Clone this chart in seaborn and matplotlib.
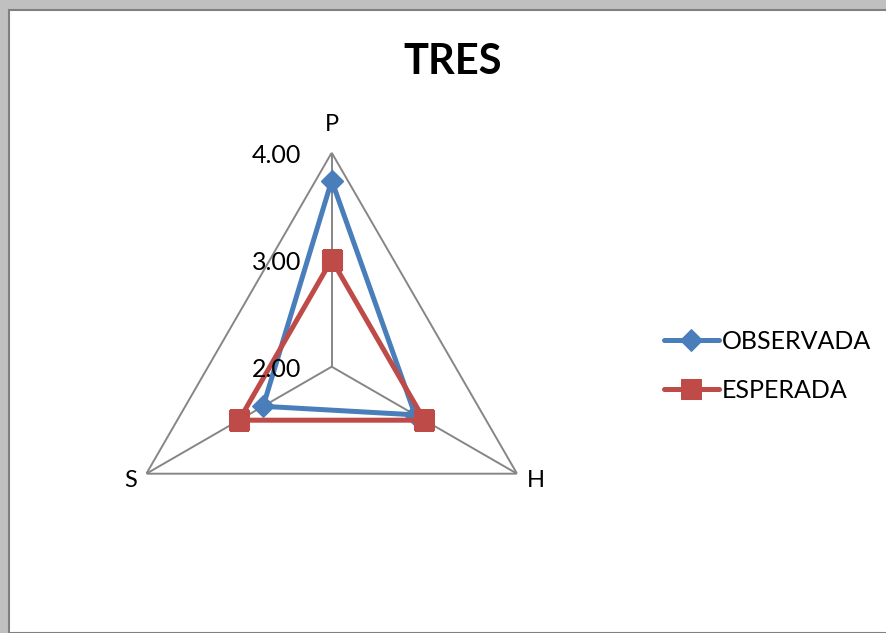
import numpy as np
import pandas as pd
import matplotlib
matplotlib.use("Agg")
import matplotlib.pyplot as plt
from matplotlib.patches import Rectangle
import seaborn as sns

# Radar data
categories = ["P", "H", "S"]
observada = [3.74, 2.90, 2.74]
esperada = [3.00, 3.00, 3.00]
series_names = ["OBSERVADA", "ESPERADA"]
tick_values = [2.00, 3.00, 4.00]
tick_labels = ["2.00", "3.00", "4.00"]
title = "TRES"

sns.set_theme(style="white")
plt.rcParams["font.family"] = ["Lato", "DejaVu Sans"]
plt.rcParams["text.color"] = "black"

W, H = 887, 633
fig = plt.figure(figsize=(W / 100, H / 100), dpi=100, facecolor="#c0c0c0")

# White chart area inside the grey window frame
fig.patches.append(Rectangle((9 / W, 0), 1, (H - 10) / H, transform=fig.transFigure,
                             facecolor="white", edgecolor="#808080", lw=1.5, zorder=-10))

cx, cy, R = 331.7, 366.7, 214
ax = fig.add_axes([(cx - R) / W, (H - cy - R) / H, 2 * R / W, 2 * R / H], projection="polar")
ax.set_zorder(1)
ax.set_facecolor("none")
ax.set_theta_offset(np.pi / 2)
ax.set_theta_direction(-1)
ax.set_ylim(tick_values[0], tick_values[-1])
ax.grid(False)
ax.spines["polar"].set_visible(False)
ax.set_xticks([])
ax.set_yticks([])

n = len(categories)
angles = [2 * np.pi * i / n for i in range(n)]
closed = angles + angles[:1]

grid_col = "#868686"
# Spokes and outer triangle
for a in angles:
    ax.plot([a, a], [tick_values[0], tick_values[-1]], color=grid_col, lw=1.4, zorder=1)
ax.plot(closed, [tick_values[-1]] * (n + 1), color=grid_col, lw=1.4, zorder=1)

rows = []
for name, vals in zip(series_names, [observada, esperada]):
    for i in range(n + 1):
        rows.append({"serie": name, "theta": closed[i], "valor": vals[i % n], "order": i})
df = pd.DataFrame(rows)

palette = {"OBSERVADA": "#4a7ebb", "ESPERADA": "#be4b48"}
markers = {"OBSERVADA": "D", "ESPERADA": "s"}
sizes = {"OBSERVADA": 11, "ESPERADA": 14}
for name in series_names:
    sub = df[df["serie"] == name]
    sns.lineplot(data=sub, x="theta", y="valor", sort=False, ax=ax, color=palette[name],
                 lw=3.6, marker=markers[name], markersize=sizes[name],
                 markeredgecolor=palette[name], label=name, zorder=3, estimator=None)

# Radial tick labels along the P spoke
for v, lab in zip(tick_values, tick_labels):
    ax.annotate(lab, xy=(0, v), xytext=(-22, -2), textcoords="offset points",
                ha="right", va="center", fontsize=18, color="black", annotation_clip=False)

# Category labels outside the vertices
offsets = [(0, 20, "center", "center"), (7, -5, "left", "center"), (-7, -5, "right", "center")]
for a, lab, (dx, dy, ha, va) in zip(angles, categories, offsets):
    ax.annotate(lab, xy=(a, tick_values[-1]), xytext=(dx, dy), textcoords="offset points",
                ha=ha, va=va, fontsize=17, color="black", annotation_clip=False)

leg = ax.legend(loc="center left", bbox_to_anchor=(664 / W, 1 - 366 / H),
                bbox_transform=fig.transFigure, frameon=False, fontsize=18,
                handlelength=2.2, handletextpad=0.12, labelspacing=1.05, borderaxespad=0,
                borderpad=0)

fig.text(453 / W, 1 - 62 / H, title, ha="center", va="center", fontsize=30,
         fontweight="bold", color="black")

fig.savefig("out.png", dpi=100, facecolor=fig.get_facecolor())
